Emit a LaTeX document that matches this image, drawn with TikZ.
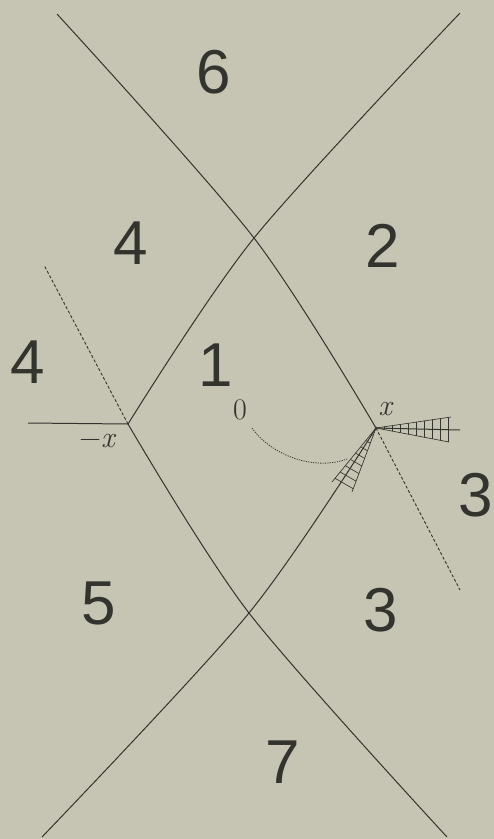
\documentclass[tikz,border=0pt]{standalone}
\usepackage{fontspec}
\setmainfont{Liberation Sans}
\newfontfamily\lmr{Latin Modern Roman}
\definecolor{bg}{RGB}{198,197,180}
\definecolor{ink}{RGB}{52,52,46}
\begin{document}
\begin{tikzpicture}[x=1pt,y=-1pt,line width=1pt,
  num/.style={font=\fontsize{62}{62}\selectfont,text=ink,inner sep=0pt},
  sml/.style={font=\lmr\fontsize{30}{30}\selectfont,text=ink,inner sep=0pt},
  bnd/.style={draw=ink,line width=1pt},
  dsh/.style={draw=ink,line width=0.9pt,dash pattern=on 3pt off 2pt},
  dot/.style={draw=ink,line width=0.8pt,dash pattern=on 1.2pt off 1.2pt},
  hatch/.style={draw=ink,line width=0.65pt}]
\useasboundingbox[fill=bg] (0,0) rectangle (494,839);
% key points
\coordinate (tl) at (57,14);
\coordinate (tr) at (460,13);
\coordinate (uc) at (254,238);
\coordinate (mx) at (128,424);
\coordinate (px) at (376,428);
\coordinate (lc) at (249,613);
\coordinate (bl) at (42,837);
\coordinate (br) at (447,837);
% boundary curves
\draw[bnd] plot[smooth] coordinates {(57,14) (254,238) (376,428)};
\draw[bnd] plot[smooth] coordinates {(460,13) (254,238) (128,424)};
\draw[bnd] plot[smooth] coordinates {(128,424) (249,613) (447,837)};
\draw[bnd] plot[smooth] coordinates {(376,428) (249,613) (42,837)};
% horizontal lines
\coordinate (hl) at (28,423);
\coordinate (hr) at (460,430);
\draw[bnd] (hl) -- (mx);
\draw[bnd] (px) -- (hr);
% dashed continuations
\coordinate (dl) at (44,265);
\coordinate (dr) at (460,590);
\draw[dsh] (mx) -- (dl);
\draw[dsh] (px) -- (dr);
% right hatched wedge
\coordinate (w1a) at (451,417);
\coordinate (w1b) at (449,442);
\begin{scope}
  \clip (px) -- (w1a) -- (w1b) -- cycle;
  \draw[hatch] (370,400) grid[xstep=8,ystep=5] (460,450);
\end{scope}
\draw[hatch] (w1a) -- (px) -- (w1b);
% lower hatched wedge
\coordinate (w2a) at (332,482);
\coordinate (w2b) at (352,492);
\begin{scope}
  \clip (px) -- (w2a) -- (w2b) -- cycle;
  \begin{scope}[shift={(376,428)},rotate=240]
    \draw[hatch] (-2,-20) grid[xstep=8,ystep=5] (80,20);
  \end{scope}
\end{scope}
\draw[hatch] (w2a) -- (px) -- (w2b);
% dotted path from 0
\coordinate (o0) at (252,428);
\coordinate (oe) at (347,459);
\draw[dot] (o0) .. controls (272,456) and (315,471) .. (oe);
% labels
\node[num] (n6) at (214,72) {6};
\node[num] (n4a) at (131,243) {4};
\node[num] (n2) at (383,246) {2};
\node[num] (n4b) at (28,362) {4};
\node[num] (n1) at (216,365) {1};
\node[num] (n3a) at (476,495) {3};
\node[num] (n5) at (99,603) {5};
\node[num] (n3b) at (381,610) {3};
\node[num] (n7) at (283,762) {7};
\node[sml] (l0) at (240,410) {0};
\node[sml] (lx) at (385,409) {\itshape x};
\node[sml] (lmx) at (97,441) {−\itshape x};
\end{tikzpicture}
\end{document}
